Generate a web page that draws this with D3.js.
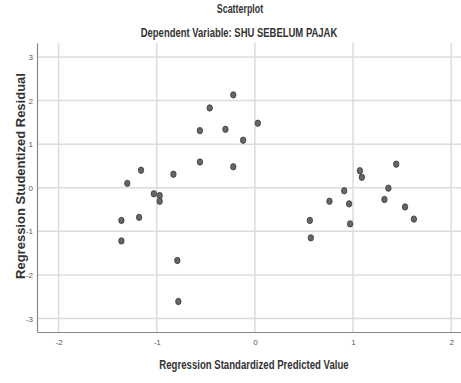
<!DOCTYPE html>
<html>
<head>
<meta charset="utf-8">
<script src="https://cdn.jsdelivr.net/npm/d3@7"></script>
<style>
  body { margin: 0; background: #fff; }
  svg { display: block; }
  .grid line { stroke: #dcdcdc; stroke-width: 1.5; }
  .tick text { fill: #555; font-family: "Liberation Sans", Arial, sans-serif; font-size: 8px; }
  .narrow { font-family: "Liberation Sans", Arial, sans-serif; font-size: 12px; fill: #333; }
</style>
</head>
<body>
<div id="chart"></div>
<script>
// standardized predicted value (x) and studentized residual (y)
var predicted = [-0.22, -0.46, -0.56, -0.30, 0.03, -0.12, -0.56, -0.22, -1.16, -0.83,
                 -1.30, -1.03, -0.97, -0.97, -1.18, -1.36, -1.36, -0.79, -0.78,
                 1.44, 1.07, 1.09, 0.91, 1.36, 0.76, 0.96, 1.32, 1.53, 0.56, 0.97, 1.62, 0.57];
var residual = [2.13, 1.83, 1.31, 1.34, 1.48, 1.09, 0.59, 0.48, 0.40, 0.31,
                0.10, -0.14, -0.18, -0.31, -0.68, -0.75, -1.22, -1.67, -2.61,
                0.54, 0.39, 0.24, -0.07, -0.01, -0.31, -0.37, -0.27, -0.44, -0.75, -0.83, -0.72, -1.15];
var xTicks = [-2, -1, 0, 1, 2];
var yTicks = [-3, -2, -1, 0, 1, 2, 3];

var W = 461, H = 383;
var margin = {top: 43, right: 0, bottom: 51, left: 37};
var w = W - margin.left - margin.right,
    h = H - margin.top - margin.bottom;

var svg = d3.select('#chart').append('svg')
  .attr('width', W)
  .attr('height', H);

var g = svg.append('g')
  .attr('transform', 'translate(' + margin.left + ',' + margin.top + ')');

var x = d3.scaleLinear().domain([-2.22, 2.1]).range([0, w]);
var y = d3.scaleLinear().domain([-3.31, 3.32]).range([h, 0]);

// grid
g.append('g').attr('class', 'grid')
  .selectAll('line.v').data(xTicks).enter().append('line')
  .attr('x1', function(d){ return x(d); }).attr('x2', function(d){ return x(d); })
  .attr('y1', 0).attr('y2', h);
g.append('g').attr('class', 'grid')
  .selectAll('line.h').data(yTicks).enter().append('line')
  .attr('x1', 0).attr('x2', w)
  .attr('y1', function(d){ return y(d); }).attr('y2', function(d){ return y(d); });

// axes (plain hyphen for minus, like the original)
var fmt = function(d){ return String(d); };
var xAxis = g.append('g')
  .attr('transform', 'translate(0,' + h + ')')
  .call(d3.axisBottom(x).tickValues(xTicks).tickSize(0).tickPadding(7).tickFormat(fmt));
xAxis.select('.domain').attr('stroke', '#888').attr('stroke-width', 1.2);

var yAxis = g.append('g')
  .call(d3.axisLeft(y).tickValues(yTicks).tickSize(0).tickPadding(4).tickFormat(fmt));
yAxis.select('.domain').attr('stroke', '#888').attr('stroke-width', 1.2);

// points
g.append('g').selectAll('ellipse')
  .data(predicted.map(function(d, i){ return {x: d, y: residual[i]}; }))
  .enter().append('ellipse')
  .attr('cx', function(d){ return x(d.x); })
  .attr('cy', function(d){ return y(d.y); })
  .attr('rx', 2.7)
  .attr('ry', 3.2)
  .attr('fill', '#666')
  .attr('stroke', '#3a3a3a')
  .attr('stroke-width', 0.8);

// titles (no narrow font installed, so squeeze horizontally)
svg.append('text')
  .attr('class', 'narrow')
  .attr('transform', 'translate(240,13) scale(0.74,1)')
  .attr('text-anchor', 'middle')
  .style('font-weight', 'bold')
  .text('Scatterplot');

svg.append('text')
  .attr('class', 'narrow')
  .attr('transform', 'translate(239,37) scale(0.79,1)')
  .attr('text-anchor', 'middle')
  .style('font-weight', '600')
  .text('Dependent Variable: SHU SEBELUM PAJAK');

svg.append('text')
  .attr('class', 'narrow')
  .attr('transform', 'translate(254,369) scale(0.8,1)')
  .attr('text-anchor', 'middle')
  .style('font-weight', '600')
  .text('Regression Standardized Predicted Value');

svg.append('text')
  .attr('transform', 'translate(25,176) rotate(-90)')
  .attr('text-anchor', 'middle')
  .style('font-family', '"Liberation Sans", Arial, sans-serif')
  .style('font-size', '13px').style('font-weight', 'bold').style('fill', '#333')
  .text('Regression Studentized Residual');
</script>
</body>
</html>
